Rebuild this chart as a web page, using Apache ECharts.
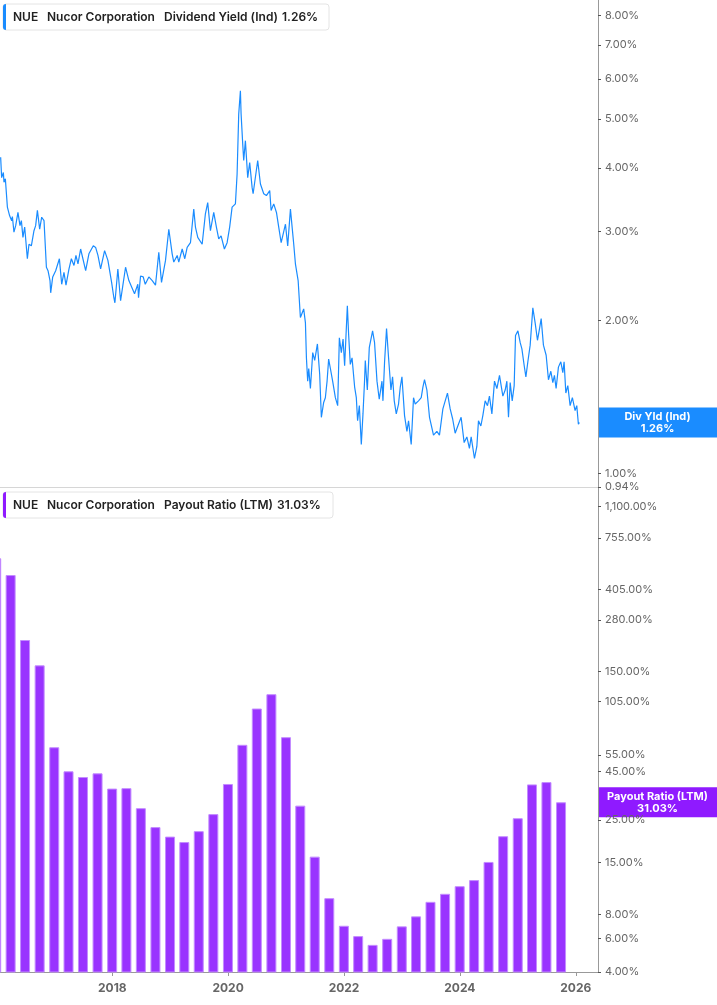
<!DOCTYPE html>
<html>
<head>
<meta charset="utf-8">
<script src="https://cdn.jsdelivr.net/npm/echarts@6/dist/echarts.min.js"></script>
<style>
  html, body { margin: 0; padding: 0; background: #fff; }
  #chart { width: 717px; height: 1005px; }
</style>
</head>
<body>
<div id="chart"></div>
<script>
// Dividend yield (Ind), in %; dates as decimal years
const yieldYears = [
  2016.074, 2016.091, 2016.121, 2016.131, 2016.155, 2016.190, 2016.229, 2016.264, 2016.276, 2016.303,
  2016.333, 2016.372, 2016.407, 2016.431, 2016.458, 2016.488, 2016.534, 2016.562, 2016.603, 2016.648,
  2016.677, 2016.707, 2016.746, 2016.781, 2016.821, 2016.862, 2016.890, 2016.924, 2016.936, 2016.971,
  2017.022, 2017.086, 2017.126, 2017.165, 2017.200, 2017.252, 2017.293, 2017.338, 2017.372, 2017.407,
  2017.453, 2017.540, 2017.596, 2017.672, 2017.712, 2017.752, 2017.798, 2017.867, 2017.924, 2017.988,
  2018.027, 2018.045, 2018.096, 2018.143, 2018.183, 2018.229, 2018.286, 2018.315, 2018.384, 2018.441,
  2018.453, 2018.488, 2018.534, 2018.569, 2018.631, 2018.690, 2018.746, 2018.803, 2018.850, 2018.919,
  2018.976, 2019.034, 2019.062, 2019.121, 2019.148, 2019.207, 2019.252, 2019.293, 2019.350, 2019.407,
  2019.436, 2019.476, 2019.552, 2019.608, 2019.648, 2019.695, 2019.752, 2019.798, 2019.838, 2019.879,
  2019.936, 2019.983, 2020.027, 2020.069, 2020.126, 2020.155, 2020.183, 2020.212, 2020.224, 2020.252,
  2020.269, 2020.298, 2020.338, 2020.372, 2020.414, 2020.431, 2020.510, 2020.557, 2020.614, 2020.660,
  2020.717, 2020.741, 2020.786, 2020.833, 2020.872, 2020.914, 2020.988, 2021.027, 2021.074, 2021.131,
  2021.160, 2021.207, 2021.246, 2021.303, 2021.333, 2021.350, 2021.372, 2021.390, 2021.419, 2021.459,
  2021.493, 2021.540, 2021.579, 2021.608, 2021.648, 2021.677, 2021.707, 2021.734, 2021.764, 2021.803,
  2021.850, 2021.890, 2021.919, 2021.953, 2021.983, 2022.010, 2022.057, 2022.079, 2022.108, 2022.138,
  2022.183, 2022.212, 2022.234, 2022.264, 2022.298, 2022.327, 2022.355, 2022.367, 2022.402, 2022.436,
  2022.493, 2022.527, 2022.569, 2022.608, 2022.655, 2022.672, 2022.700, 2022.734, 2022.769, 2022.810,
  2022.838, 2022.867, 2022.902, 2022.941, 2022.971, 2023.000, 2023.045, 2023.086, 2023.114, 2023.160,
  2023.200, 2023.229, 2023.286, 2023.333, 2023.362, 2023.390, 2023.431, 2023.476, 2023.517, 2023.545,
  2023.603, 2023.648, 2023.707, 2023.786, 2023.833, 2023.876, 2023.919, 2023.976, 2024.022, 2024.074,
  2024.121, 2024.165, 2024.195, 2024.252, 2024.293, 2024.321, 2024.362, 2024.396, 2024.436, 2024.476,
  2024.510, 2024.552, 2024.597, 2024.638, 2024.683, 2024.741, 2024.781, 2024.810, 2024.838, 2024.867,
  2024.902, 2024.936, 2024.959, 2025.000, 2025.040, 2025.069, 2025.109, 2025.138, 2025.172, 2025.212,
  2025.241, 2025.258, 2025.298, 2025.338, 2025.367, 2025.402, 2025.441, 2025.488, 2025.528, 2025.569,
  2025.603, 2025.631, 2025.660, 2025.700, 2025.741, 2025.776, 2025.798, 2025.828, 2025.862, 2025.902,
  2025.941, 2025.988, 2026.017, 2026.045, 2026.062
];
const yieldValues = [
  4.20, 3.83, 3.92, 3.75, 3.81, 3.35, 3.22, 3.15, 3.21, 2.99,
  3.08, 3.27, 3.08, 3.15, 2.92, 3.06, 2.65, 2.83, 2.81, 3.01,
  3.08, 3.30, 3.03, 3.20, 3.15, 2.55, 2.51, 2.40, 2.27, 2.44,
  2.51, 2.65, 2.36, 2.49, 2.35, 2.53, 2.65, 2.57, 2.69, 2.59,
  2.77, 2.51, 2.71, 2.81, 2.79, 2.69, 2.53, 2.75, 2.63, 2.38,
  2.22, 2.17, 2.53, 2.19, 2.35, 2.55, 2.40, 2.42, 2.26, 2.36,
  2.22, 2.45, 2.44, 2.36, 2.44, 2.40, 2.35, 2.73, 2.38, 2.63,
  3.03, 2.71, 2.61, 2.69, 2.61, 2.77, 2.65, 2.79, 2.85, 3.32,
  3.06, 2.92, 2.83, 3.25, 3.42, 3.01, 3.27, 3.06, 2.90, 2.94,
  2.77, 2.85, 3.06, 3.35, 3.40, 3.89, 5.11, 5.68, 5.11, 4.46,
  4.14, 4.53, 3.83, 4.10, 3.66, 3.56, 4.14, 3.72, 3.56, 3.53,
  3.61, 3.30, 3.40, 3.27, 3.06, 2.85, 3.10, 2.81, 3.32, 2.83,
  2.59, 2.40, 2.03, 2.11, 1.98, 1.69, 1.52, 1.61, 1.47, 1.73,
  1.67, 1.80, 1.57, 1.29, 1.38, 1.41, 1.52, 1.68, 1.61, 1.52,
  1.41, 1.36, 1.85, 1.73, 1.84, 1.63, 2.14, 1.88, 1.64, 1.69,
  1.48, 1.41, 1.27, 1.36, 1.14, 1.31, 1.53, 1.67, 1.46, 1.77,
  1.91, 1.81, 1.52, 1.40, 1.52, 1.39, 1.66, 1.93, 1.69, 1.46,
  1.55, 1.39, 1.31, 1.37, 1.48, 1.55, 1.30, 1.21, 1.27, 1.14,
  1.41, 1.37, 1.39, 1.41, 1.48, 1.53, 1.46, 1.29, 1.23, 1.19,
  1.21, 1.19, 1.34, 1.44, 1.34, 1.28, 1.20, 1.25, 1.29, 1.15,
  1.18, 1.12, 1.18, 1.07, 1.13, 1.27, 1.24, 1.30, 1.39, 1.36,
  1.42, 1.31, 1.52, 1.47, 1.56, 1.42, 1.46, 1.52, 1.29, 1.51,
  1.39, 1.49, 1.87, 1.91, 1.81, 1.76, 1.63, 1.55, 1.66, 1.79,
  1.80, 2.12, 1.98, 1.83, 1.91, 2.02, 1.79, 1.71, 1.53, 1.59,
  1.51, 1.56, 1.47, 1.62, 1.66, 1.58, 1.66, 1.44, 1.49, 1.36,
  1.41, 1.33, 1.36, 1.25, 1.26
];

// Payout ratio (LTM), quarterly, in %
const payoutDates = [
  '2015-12-31', '2016-03-31', '2016-06-30', '2016-09-30', '2016-12-31',
  '2017-03-31', '2017-06-30', '2017-09-30', '2017-12-31',
  '2018-03-31', '2018-06-30', '2018-09-30', '2018-12-31',
  '2019-03-31', '2019-06-30', '2019-09-30', '2019-12-31',
  '2020-03-31', '2020-06-30', '2020-09-30', '2020-12-31',
  '2021-03-31', '2021-06-30', '2021-09-30', '2021-12-31',
  '2022-03-31', '2022-06-30', '2022-09-30', '2022-12-31',
  '2023-03-31', '2023-06-30', '2023-09-30', '2023-12-31',
  '2024-03-31', '2024-06-30', '2024-09-30', '2024-12-31',
  '2025-03-31', '2025-06-30', '2025-09-30'
];
const payoutValues = [
  590, 482, 220, 162, 60.3,
  45.1, 42.1, 44.0, 36.6,
  36.8, 28.9, 23.0, 20.5,
  19.2, 21.9, 26.9, 38.7,
  62.1, 96.2, 114.4, 68.1,
  29.8, 16.1, 9.75, 6.99,
  6.17, 5.55, 5.97, 6.94,
  7.83, 9.33, 10.28, 11.27,
  12.13, 15.1, 20.6, 25.6,
  38.5, 39.6, 31.03
];

// axis ticks
const yieldTicks = [0.94, 1, 2, 3, 4, 5, 6, 7, 8];
const payoutTicks = [4, 6, 8, 15, 25, 45, 55, 105, 150, 280, 405, 755, 1100];
const yearTicks = ['2018-01-01', '2020-01-01', '2022-01-01', '2024-01-01', '2026-01-01'];

const lastYield = 1.26;
const lastPayout = 31.03;

// decimal year -> timestamp
function yearToTime(y) {
  const yr = Math.floor(y);
  const a = Date.UTC(yr, 0, 1), b = Date.UTC(yr + 1, 0, 1);
  return a + (y - yr) * (b - a);
}
const toTime = d => new Date(d + 'T00:00:00Z').getTime();

const xMin = Date.UTC(2016, 0, 24);
const xMax = Date.UTC(2026, 4, 21);

const fmtPct = v => Number(v).toLocaleString('en-US', { minimumFractionDigits: 2, maximumFractionDigits: 2 }) + '%';

const BLUE = '#1a8cff';
const PURPLE = '#9933ff';
const PURPLE_TAG = '#8f1aff';
const FONT = 'Inter, "Noto Sans", sans-serif';

const chart = echarts.init(document.getElementById('chart'), null, { renderer: 'canvas' });

const yAxisCommon = {
  type: 'log',
  position: 'right',
  logBase: 10,
  axisLine: { show: true, lineStyle: { color: '#999', width: 1 } },
  axisTick: { show: true, inside: false, length: 3, lineStyle: { color: '#555' } },
  axisLabel: { color: '#666', fontSize: 11, fontFamily: FONT, margin: 7, formatter: fmtPct },
  splitLine: { show: false }
};

chart.setOption({
  animation: false,
  backgroundColor: '#fff',
  grid: [
    { left: 0, right: 119, top: 0, height: 487 },
    { left: 0, right: 119, top: 487, height: 485 }
  ],
  xAxis: [
    {
      type: 'time', gridIndex: 0, min: xMin, max: xMax,
      axisLine: { show: true, lineStyle: { color: '#d6d6d6' } },
      axisTick: { show: false }, axisLabel: { show: false }, splitLine: { show: false }
    },
    {
      // timestamps on a value axis so the year ticks can be placed exactly
      type: 'value', gridIndex: 1, min: xMin, max: xMax,
      axisLine: { show: true, lineStyle: { color: '#999' } },
      axisTick: { show: true, length: 4, lineStyle: { color: '#999' }, customValues: yearTicks.map(toTime) },
      axisLabel: {
        color: '#666', fontSize: 12, fontWeight: 'bold', fontFamily: FONT, margin: 10,
        customValues: yearTicks.map(toTime),
        formatter: v => String(new Date(v).getUTCFullYear())
      },
      splitLine: { show: false }
    }
  ],
  yAxis: [
    Object.assign({}, yAxisCommon, {
      gridIndex: 0, min: 0.94, max: 8.58,
      axisTick: Object.assign({}, yAxisCommon.axisTick, { customValues: yieldTicks }),
      axisLabel: Object.assign({}, yAxisCommon.axisLabel, { customValues: yieldTicks })
    }),
    Object.assign({}, yAxisCommon, {
      gridIndex: 1, min: 4, max: 1395,
      axisTick: Object.assign({}, yAxisCommon.axisTick, { customValues: payoutTicks }),
      axisLabel: Object.assign({}, yAxisCommon.axisLabel, { customValues: payoutTicks })
    })
  ],
  series: [
    {
      name: 'Dividend Yield (Ind)',
      type: 'line',
      xAxisIndex: 0, yAxisIndex: 0,
      showSymbol: false,
      lineStyle: { color: BLUE, width: 1.2 },
      data: yieldYears.map((y, i) => [yearToTime(y), yieldValues[i]])
    },
    {
      name: 'Payout Ratio (LTM)',
      type: 'bar',
      xAxisIndex: 1, yAxisIndex: 1,
      clip: true,
      barWidth: 10,
      itemStyle: { color: PURPLE, borderColor: '#c38cff', borderWidth: 1 },
      data: payoutDates.map((d, i) => [toTime(d), payoutValues[i]])
    }
  ]
});

// legend boxes and value tags on the right axis
function legendBox(top, stripe, parts, width) {
  const children = [
    { type: 'rect', shape: { x: 3, y: top, width: width, height: 26, r: 3 },
      style: { fill: '#fff', stroke: '#e4e4e4', lineWidth: 1 } },
    { type: 'rect', shape: { x: 3, y: top, width: 3, height: 26, r: [3, 0, 0, 3] },
      style: { fill: stripe } }
  ];
  parts.forEach(p => children.push({
    type: 'text', x: p[0], y: top + 13,
    style: { text: p[1], fill: '#222', font: '600 12px ' + FONT, verticalAlign: 'middle' }
  }));
  return { type: 'group', children: children };
}

function valueTag(y, color, line1, line2) {
  return {
    type: 'group',
    children: [
      { type: 'rect', shape: { x: 598, y: y - 15, width: 119, height: 30 }, style: { fill: color } },
      { type: 'text', x: 657.5, y: y, style: {
          text: line1 + '\n' + line2, fill: '#fff', font: 'bold 11px ' + FONT,
          align: 'center', verticalAlign: 'middle', lineHeight: 12 } }
    ]
  };
}

const yTagY = chart.convertToPixel({ yAxisIndex: 0 }, lastYield);
const pTagY = chart.convertToPixel({ yAxisIndex: 1 }, lastPayout);

chart.setOption({
  graphic: [
    legendBox(4, BLUE, [[13, 'NUE'], [47, 'Nucor Corporation'], [164, 'Dividend Yield (Ind)'], [282, fmtPct(lastYield)]], 326),
    legendBox(492, PURPLE_TAG, [[13, 'NUE'], [47, 'Nucor Corporation'], [164, 'Payout Ratio (LTM)'], [277, fmtPct(lastPayout)]], 330),
    valueTag(yTagY, BLUE, 'Div Yld (Ind)', fmtPct(lastYield)),
    valueTag(pTagY, PURPLE_TAG, 'Payout Ratio (LTM)', fmtPct(lastPayout))
  ]
});
</script>
</body>
</html>
